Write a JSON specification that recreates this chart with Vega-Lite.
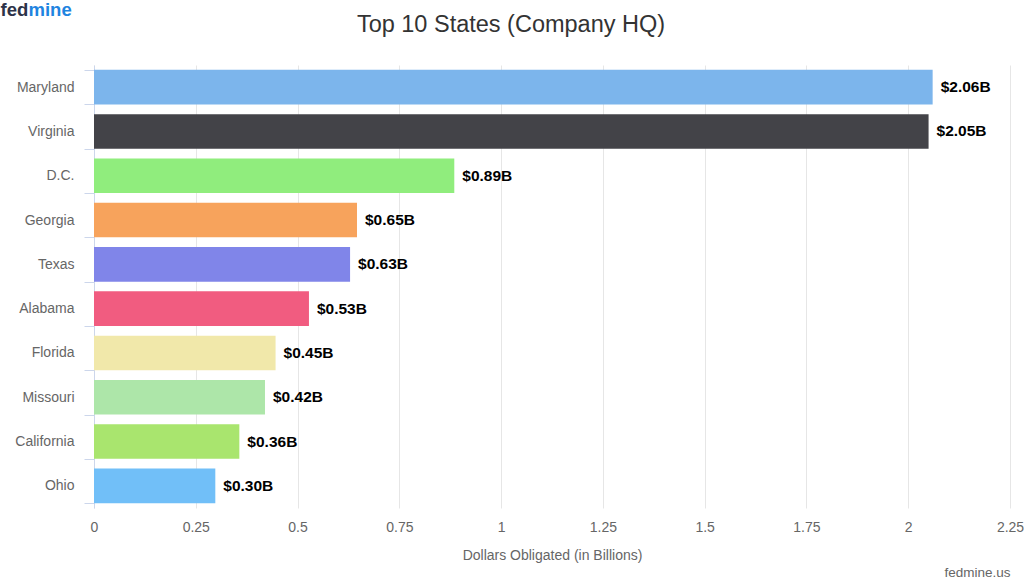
{
  "$schema": "https://vega.github.io/schema/vega-lite/v6.json",
  "width": 916,
  "height": 443,
  "autosize": {"type": "none"},
  "padding": {"left": 94, "top": 65, "right": 14, "bottom": 77},
  "background": "#ffffff",
  "config": {
    "font": "Liberation Sans",
    "view": {"stroke": null}
  },
  "title": {
    "text": "Top 10 States (Company HQ)",
    "fontSize": 23.5,
    "fontWeight": "normal",
    "color": "#333333",
    "anchor": "middle",
    "frame": "group",
    "dx": -41,
    "offset": -36
  },
  "data": {
    "values": [
      {"state": "Maryland", "value": 2.06, "label": "$2.06B", "color": "#7cb5ec"},
      {"state": "Virginia", "value": 2.05, "label": "$2.05B", "color": "#434348"},
      {"state": "D.C.", "value": 0.885, "label": "$0.89B", "color": "#90ed7d"},
      {"state": "Georgia", "value": 0.646, "label": "$0.65B", "color": "#f7a35c"},
      {"state": "Texas", "value": 0.629, "label": "$0.63B", "color": "#8085e9"},
      {"state": "Alabama", "value": 0.528, "label": "$0.53B", "color": "#f15c80"},
      {"state": "Florida", "value": 0.446, "label": "$0.45B", "color": "#f1e8aa"},
      {"state": "Missouri", "value": 0.42, "label": "$0.42B", "color": "#ade6a9"},
      {"state": "California", "value": 0.357, "label": "$0.36B", "color": "#a9e56e"},
      {"state": "Ohio", "value": 0.298, "label": "$0.30B", "color": "#71bff8"}
    ]
  },
  "layer": [
    {
      "mark": {"type": "bar"},
      "encoding": {
        "y": {
          "field": "state",
          "type": "nominal",
          "sort": null,
          "scale": {"paddingInner": 0.22, "paddingOuter": 0.11},
          "axis": {
            "orient": "left",
            "title": "fed",
            "titleAngle": 0,
            "titleAlign": "left",
            "titleBaseline": "middle",
            "titleX": -94,
            "titleY": -56,
            "titleFontSize": 18.5,
            "titleFontWeight": "bold",
            "titleColor": "#2d3349",
            "labelFontSize": 14,
            "labelColor": "#666666",
            "labelPadding": 10,
            "tickBand": "extent",
            "tickSize": 10,
            "tickColor": "#ccd6eb",
            "domainColor": "#ccd6eb",
            "grid": false
          }
        },
        "x": {
          "field": "value",
          "type": "quantitative",
          "scale": {"domain": [0, 2.25], "nice": false},
          "axis": {
            "orient": "bottom",
            "title": "Dollars Obligated (in Billions)",
            "titleFontSize": 14,
            "titleFontWeight": "normal",
            "titleColor": "#666666",
            "titlePadding": 14,
            "values": [0, 0.25, 0.5, 0.75, 1, 1.25, 1.5, 1.75, 2, 2.25],
            "labelExpr": "toString(datum.value)",
            "labelFontSize": 14,
            "labelColor": "#666666",
            "labelPadding": 12,
            "ticks": false,
            "domain": false,
            "grid": true,
            "gridColor": "#e6e6e6",
            "labelFlush": false
          }
        },
        "color": {"field": "color", "type": "nominal", "scale": null, "legend": null}
      }
    },
    {
      "mark": {"type": "text", "align": "left", "baseline": "middle", "dx": 8, "fontSize": 15.5, "fontWeight": "bold", "color": "#000000"},
      "encoding": {
        "y": {
          "field": "state",
          "type": "nominal",
          "sort": null,
          "axis": {
            "orient": "right",
            "title": "mine",
            "titleAngle": 0,
            "titleAlign": "left",
            "titleBaseline": "middle",
            "titleX": -982,
            "titleY": -56,
            "titleFontSize": 18.5,
            "titleFontWeight": "bold",
            "titleColor": "#1f84e0",
            "labels": false,
            "ticks": false,
            "domain": false,
            "grid": false
          }
        },
        "x": {
          "field": "value",
          "type": "quantitative",
          "axis": {
            "orient": "top",
            "title": "fedmine.us",
            "titleAlign": "right",
            "titleBaseline": "middle",
            "titleAnchor": null,
            "titleX": 916,
            "titleY": 507,
            "titleFontSize": 13.5,
            "titleFontWeight": "normal",
            "titleColor": "#666666",
            "labels": false,
            "ticks": false,
            "domain": false,
            "grid": false
          }
        },
        "text": {"field": "label", "type": "nominal"}
      }
    }
  ]
}
